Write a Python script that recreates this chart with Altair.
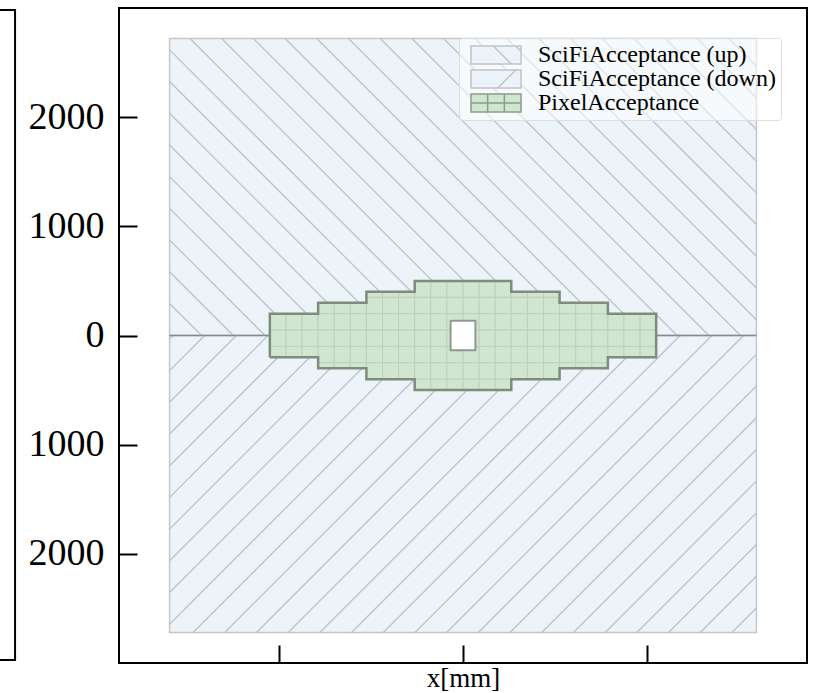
import altair as alt
import numpy as np
import pandas as pd

# ---------------------------------------------------------------- layout
W, H = 688, 655                      # plot area in px
PAD = {"left": 119, "top": 8, "right": 6, "bottom": 30}
SERIF = "Liberation Serif"

# ---------------------------------------------------------------- axes (mm)
X_DOMAIN = [-3740, 3740]
Y_DOMAIN = [-3000, 3000]
X_TICKS = [-2000, 0, 2000]
Y_TICKS = [-2000, -1000, 0, 1000, 2000]

# ---------------------------------------------------------------- SciFi acceptance (mm)
SCIFI_NAMES = ["SciFiAcceptance (up)", "SciFiAcceptance (down)"]
SCIFI_X0 = [-3190, -3190]
SCIFI_X1 = [3190, 3190]
SCIFI_Y0 = [0, -2720]
SCIFI_Y1 = [2720, 0]

# ---------------------------------------------------------------- Pixel acceptance (mm)
PIX_X_EDGES = [-2100, -1575, -1050, -525, 525, 1050, 1575, 2100]
PIX_HALF_H = [200, 300, 400, 500, 400, 300, 200]
PIX_COL_W = 175
PIX_ROW_EDGES = [500, 350, 200, 50, -100, -250, -400, -550]
HOLE_X = [-135, 135]
HOLE_Y = [-135, 135]

# neighbouring panel frame (only its right edge is in view)
NEIGHBOUR_X = [-9000, -4870]
NEIGHBOUR_Y = [-2972, 2982]

LEGEND_NAMES = ["SciFiAcceptance (up)", "SciFiAcceptance (down)", "PixelAcceptance"]

# ---------------------------------------------------------------- styles
BLUE = "#ecf4f9"
EDGE = "#c6c6c6"
HATCH = "#bcc2c7"
GREEN = "#cfe7cf"
CELL_EDGE = "#c4ccc4"
OUTLINE = "#7d8c7d"

xs = alt.Scale(domain=X_DOMAIN, nice=False, zero=False)
ys = alt.Scale(domain=Y_DOMAIN, nice=False, zero=False)


def X(field, axis=None):
    return alt.X(field, type="quantitative", scale=xs, axis=axis)


def Y(field, axis=None):
    return alt.Y(field, type="quantitative", scale=ys, axis=axis)


# ---------------------------------------------------------------- SciFi halves
scifi_df = pd.DataFrame({"name": SCIFI_NAMES, "x0": SCIFI_X0, "x1": SCIFI_X1,
                         "y0": SCIFI_Y0, "y1": SCIFI_Y1})

axis_x = alt.Axis(title="x[mm]", labels=False, ticks=False, domain=False, grid=False,
                  titleFont=SERIF, titleFontSize=27, titleFontWeight="normal",
                  titleColor="black", titlePadding=2)
axis_y = alt.Axis(title=None, values=Y_TICKS, labelExpr="format(abs(datum.value), 'd')",
                  ticks=False, tickSize=0, domain=False, grid=False,
                  labelFont=SERIF, labelFontSize=38, labelColor="black", labelPadding=15)

scifi = alt.Chart(scifi_df).mark_rect(fill=BLUE, stroke=EDGE, strokeWidth=1.5).encode(
    x=X("x0", axis_x), x2="x1:Q", y=Y("y0", axis_y), y2="y1:Q"
)

# hatching: 45 degree lines on screen, "\" in the upper half and "/" in the lower half
SX = W / (X_DOMAIN[1] - X_DOMAIN[0])
SY = H / (Y_DOMAIN[1] - Y_DOMAIN[0])
K = SX / SY
PITCH = 31.7 / SX


def hatch_segments(x0, x1, y0, y1, start, falling):
    segs = []
    span = (y1 - y0) / K
    c = start
    while c - PITCH > x0 - span:
        c -= PITCH
    while c < x1:
        a, b = max(x0, c), min(x1, c + span)
        if a < b:
            if falling:
                ya, yb = y1 - (a - c) * K, y1 - (b - c) * K
            else:
                ya, yb = y0 + (a - c) * K, y0 + (b - c) * K
            segs.append({"x": a, "x2": b, "y": ya, "y2": yb})
        c += PITCH
    return segs


hatch_rows = hatch_segments(SCIFI_X0[0], SCIFI_X1[0], SCIFI_Y0[0], SCIFI_Y1[0], -2968, True)
hatch_rows += hatch_segments(SCIFI_X0[1], SCIFI_X1[1], SCIFI_Y0[1], SCIFI_Y1[1], -2935, False)
hatch = alt.Chart(pd.DataFrame(hatch_rows)).mark_rule(color=HATCH, strokeWidth=1.3).encode(
    x=X("x"), x2="x2:Q", y=Y("y"), y2="y2:Q"
)

split = alt.Chart(pd.DataFrame({"x0": [SCIFI_X0[0]], "x1": [SCIFI_X1[0]], "y": [0]})).mark_rule(
    color="#8a8a8a", strokeWidth=1.5
).encode(x=X("x0"), x2="x1:Q", y=Y("y"))

# ---------------------------------------------------------------- pixel cells
cells = []
for i, h in enumerate(PIX_HALF_H):
    for cx in np.arange(PIX_X_EDGES[i], PIX_X_EDGES[i + 1], PIX_COL_W):
        cx1 = min(cx + PIX_COL_W, PIX_X_EDGES[i + 1])
        for top, bot in zip(PIX_ROW_EDGES[:-1], PIX_ROW_EDGES[1:]):
            yt, yb = min(top, h), max(bot, -h)
            if yt > yb:
                cells.append({"x0": float(cx), "x1": float(cx1), "y0": yb, "y1": yt})

pixel_cells = alt.Chart(pd.DataFrame(cells)).mark_rect(
    fill=GREEN, stroke=CELL_EDGE, strokeWidth=1
).encode(x=X("x0"), x2="x1:Q", y=Y("y0"), y2="y1:Q")

# stepped outline, traced clockwise from the lower left corner
pts = [(PIX_X_EDGES[0], -PIX_HALF_H[0])]
for i, h in enumerate(PIX_HALF_H):
    pts += [(PIX_X_EDGES[i], h), (PIX_X_EDGES[i + 1], h)]
for i in reversed(range(len(PIX_HALF_H))):
    pts += [(PIX_X_EDGES[i + 1], -PIX_HALF_H[i]), (PIX_X_EDGES[i], -PIX_HALF_H[i])]
outline_df = pd.DataFrame({"x": [p[0] for p in pts], "y": [p[1] for p in pts],
                           "i": list(range(len(pts)))})
outline = alt.Chart(outline_df).mark_line(color=OUTLINE, strokeWidth=2.5).encode(
    x=X("x"), y=Y("y"), order="i:Q"
)

hole = alt.Chart(pd.DataFrame({"x0": [HOLE_X[0]], "x1": [HOLE_X[1]],
                               "y0": [HOLE_Y[0]], "y1": [HOLE_Y[1]]})).mark_rect(
    fill="white", stroke="#8c9a8c", strokeWidth=2
).encode(x=X("x0"), x2="x1:Q", y=Y("y0"), y2="y1:Q")

neighbour = alt.Chart(pd.DataFrame({"x0": [NEIGHBOUR_X[0]], "x1": [NEIGHBOUR_X[1]],
                                    "y0": [NEIGHBOUR_Y[0]], "y1": [NEIGHBOUR_Y[1]]})).mark_rect(
    fillOpacity=0, stroke="black", strokeWidth=2, clip=False
).encode(x=X("x0"), x2="x1:Q", y=Y("y0"), y2="y1:Q")

# ---------------------------------------------------------------- legend
UP_PATH = "M-2.78,-1H2.78V1H-2.78Z M-0.3,-1L1.7,1 M2.2,-1L2.78,-0.42"
DOWN_PATH = "M-2.78,-1H2.78V1H-2.78Z M0.2,1L2.2,-1"
PIX_PATH = "M-2.78,-1H2.78V1H-2.78Z M-0.93,-1V1 M0.93,-1V1 M-2.78,0H2.78"

leg = alt.Legend(title=None, orient="none", legendX=340, legendY=30, direction="vertical",
                 symbolSize=324, symbolOffset=20, labelOffset=30, symbolStrokeWidth=1.5,
                 symbolOpacity=1, labelFont=SERIF, labelFontSize=24, labelColor="black",
                 labelLimit=400, fillColor="rgba(255,255,255,0.55)", strokeColor="#dedede",
                 padding=5, rowPadding=-5, cornerRadius=3)

legend_layer = alt.Chart(pd.DataFrame({"name": LEGEND_NAMES})).mark_point(
    opacity=0, filled=True
).encode(
    fill=alt.Fill("name:N", scale=alt.Scale(domain=LEGEND_NAMES, range=[BLUE, BLUE, GREEN]),
                  legend=leg),
    stroke=alt.Stroke("name:N", scale=alt.Scale(domain=LEGEND_NAMES,
                                                range=["#c2c2c2", "#c2c2c2", "#8d9c8d"]),
                      legend=leg),
    shape=alt.Shape("name:N", scale=alt.Scale(domain=LEGEND_NAMES,
                                              range=[UP_PATH, DOWN_PATH, PIX_PATH]),
                    legend=leg),
)

# ---------------------------------------------------------------- inward ticks
tick_axis_x = alt.Axis(orient="top", offset=-H, values=X_TICKS, labels=False, domain=False,
                       grid=False, tickSize=18, tickWidth=2, tickColor="black", title=None)
tick_axis_y = alt.Axis(orient="right", offset=-W, values=Y_TICKS, labels=False, domain=False,
                       grid=False, tickSize=18, tickWidth=2, tickColor="black", title=None)
tick_layer = alt.Chart(pd.DataFrame({"x": [0], "y": [0]})).mark_point(opacity=0).encode(
    x=X("x", tick_axis_x), y=Y("y", tick_axis_y)
)

chart = alt.layer(
    scifi, hatch, split, pixel_cells, outline, hole, neighbour, legend_layer, tick_layer
).resolve_axis(x="independent", y="independent").properties(
    width=W, height=H, padding=PAD, autosize=alt.AutoSizeParams(type="none"),
    background="white"
).configure(font=SERIF).configure_view(stroke="black", strokeWidth=2)

chart.save("out.html", embed_options={"renderer": "svg", "actions": False})
